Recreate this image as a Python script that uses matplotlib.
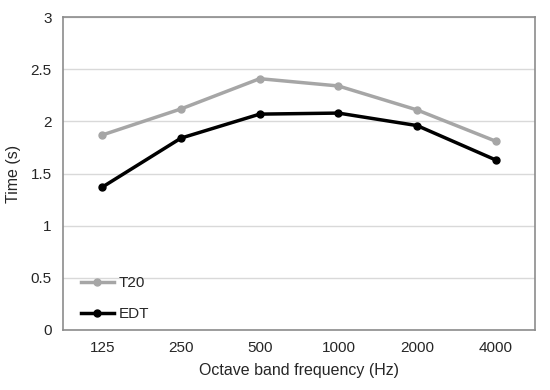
import matplotlib
matplotlib.use("Agg")
import matplotlib.pyplot as plt

plt.rcParams['font.family'] = ['Liberation Sans', 'DejaVu Sans']

categories = ["125", "250", "500", "1000", "2000", "4000"]
t20 = [1.87, 2.12, 2.41, 2.34, 2.11, 1.81]
edt = [1.37, 1.84, 2.07, 2.08, 1.96, 1.63]

fig = plt.figure(figsize=(5.5, 3.9), dpi=100)
ax = fig.add_axes([0.1145, 0.154, 0.8585, 0.802])
x = list(range(len(categories)))
ax.plot(x, t20, color='#a6a6a6', lw=2.5, marker='o', ms=5, label='T20', zorder=3)
ax.plot(x, edt, color='black', lw=2.5, marker='o', ms=5, label='EDT', zorder=3)

ax.set_xlim(-0.5, len(categories) - 0.5)
ax.set_ylim(0, 3)
ax.set_yticks([0, 0.5, 1, 1.5, 2, 2.5, 3])
ax.set_yticklabels(["0", "0.5", "1", "1.5", "2", "2.5", "3"])
ax.set_xticks(x)
ax.set_xticklabels(categories)
ax.grid(axis='y', color='#d9d9d9', lw=1)
ax.set_axisbelow(True)
for s in ax.spines.values():
    s.set_color('#8c8c8c')
    s.set_linewidth(1.2)
ax.tick_params(length=0, labelsize=11, colors='#262626', pad=8)
ax.set_xlabel("Octave band frequency (Hz)", fontsize=11.5, color='#262626', labelpad=6)
ax.set_ylabel("Time (s)", fontsize=11.5, color='#262626', labelpad=7)

leg = ax.legend(loc='lower left', bbox_to_anchor=(0.008, -0.015), frameon=False,
                fontsize=11, handlelength=2.2, handletextpad=0.3, labelspacing=1.1,
                borderaxespad=0.5)
for t in leg.get_texts():
    t.set_color('#262626')

fig.savefig("out.png", dpi=100)
